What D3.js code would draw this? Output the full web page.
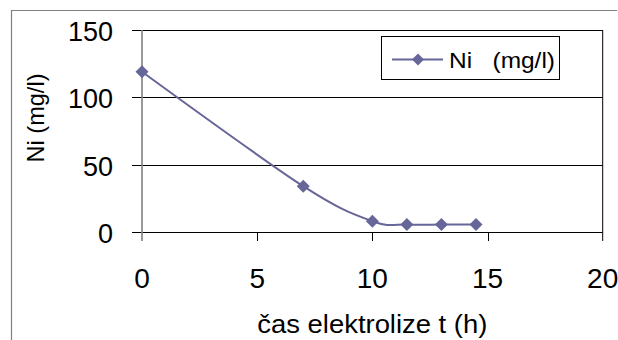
<!DOCTYPE html>
<html><head><meta charset="utf-8">
<script src="https://cdn.jsdelivr.net/npm/d3@7"></script>
<style>body{margin:0;background:#fff}svg{display:block;font-family:"Liberation Sans",Arial,sans-serif}</style>
</head><body>
<svg id="c" width="618" height="340"></svg>
<script>
const timeH = [0, 7, 10, 11.5, 13, 14.5];
const niMgL = [119, 34, 8, 5.5, 5.5, 5.5];
const xTicks = [0, 5, 10, 15, 20];
const yTicks = [0, 50, 100, 150];
const seriesName = "Ni   (mg/l)";
const xTitle = "čas elektrolize t (h)";
const yTitle = "Ni (mg/l)";

const svg = d3.select("#c");
const col = "#666699";
const L = 142, R = 602.7, T = 30, B = 232;
const x = d3.scaleLinear().domain([0, 20]).range([L, R]);
const y = d3.scaleLinear().domain([0, 150]).range([B, T]);

// outer chart border (cut at right/bottom)
svg.append("path").attr("d", "M11.5,340 V10.5 H617").attr("fill", "none").attr("stroke", "#7f7f7f").attr("stroke-width", 1.2);

// gridlines + y ticks
svg.append("g").selectAll("line").data(yTicks).join("line")
  .attr("x1", L - 10).attr("x2", R).attr("y1", d => Math.round(y(d)) + 0.5).attr("y2", d => Math.round(y(d)) + 0.5)
  .attr("stroke", "#000").attr("stroke-width", 1);
// right plot border
svg.append("line").attr("x1", R).attr("x2", R).attr("y1", T).attr("y2", B + 9).attr("stroke", "#000");
// x ticks
svg.append("g").selectAll("line").data(xTicks.slice(1, -1)).join("line")
  .attr("x1", d => Math.round(x(d)) + 0.5).attr("x2", d => Math.round(x(d)) + 0.5).attr("y1", B).attr("y2", B + 9)
  .attr("stroke", "#000");
// y axis line
svg.append("line").attr("x1", L).attr("x2", L).attr("y1", T).attr("y2", B + 9).attr("stroke", "#808080").attr("stroke-width", 1.6);

// tick labels
svg.append("g").selectAll("text").data(yTicks).join("text")
  .attr("x", 113).attr("y", d => y(d) + 11).attr("text-anchor", "end")
  .attr("font-size", 27).text(d => d);
svg.append("g").selectAll("text").data(xTicks).join("text")
  .attr("x", d => x(d)).attr("y", 288).attr("text-anchor", "middle")
  .attr("font-size", 28).text(d => d);

// axis titles
svg.append("text").attr("x", (L + R) / 2).attr("y", 333).attr("text-anchor", "middle").attr("font-size", 25)
  .attr("textLength", 230).attr("lengthAdjust", "spacingAndGlyphs").text(xTitle);
svg.append("text").attr("transform", "translate(44,118) rotate(-90)").attr("text-anchor", "middle").attr("font-size", 24)
  .attr("textLength", 89).attr("lengthAdjust", "spacingAndGlyphs").text(yTitle);

// series
const pts = timeH.map((t, i) => [t, niMgL[i]]);
const line = d3.line().x(d => x(d[0])).y(d => y(d[1])).curve(d3.curveCardinal.tension(0));
svg.append("path").attr("d", line(pts)).attr("fill", "none").attr("stroke", col).attr("stroke-width", 2);
const diamond = (cx, cy, r) => `M${cx},${cy - r}L${cx + r},${cy}L${cx},${cy + r}L${cx - r},${cy}Z`;
svg.append("g").selectAll("path").data(pts).join("path")
  .attr("d", d => diamond(x(d[0]), y(d[1]), 6.5)).attr("fill", col);

// legend
const lg = svg.append("g");
lg.append("rect").attr("x", 381.5).attr("y", 36.5).attr("width", 178).attr("height", 43).attr("fill", "#fff").attr("stroke", "#000");
lg.append("line").attr("x1", 392).attr("x2", 443).attr("y1", 59.5).attr("y2", 59.5).attr("stroke", col).attr("stroke-width", 2);
lg.append("path").attr("d", diamond(418, 59.5, 6)).attr("fill", col);
lg.append("text").attr("x", 449).attr("y", 67.5).attr("font-size", 22).attr("xml:space", "preserve").style("white-space", "pre")
  .attr("textLength", 106).attr("lengthAdjust", "spacingAndGlyphs").text(seriesName);
</script>
</body></html>
